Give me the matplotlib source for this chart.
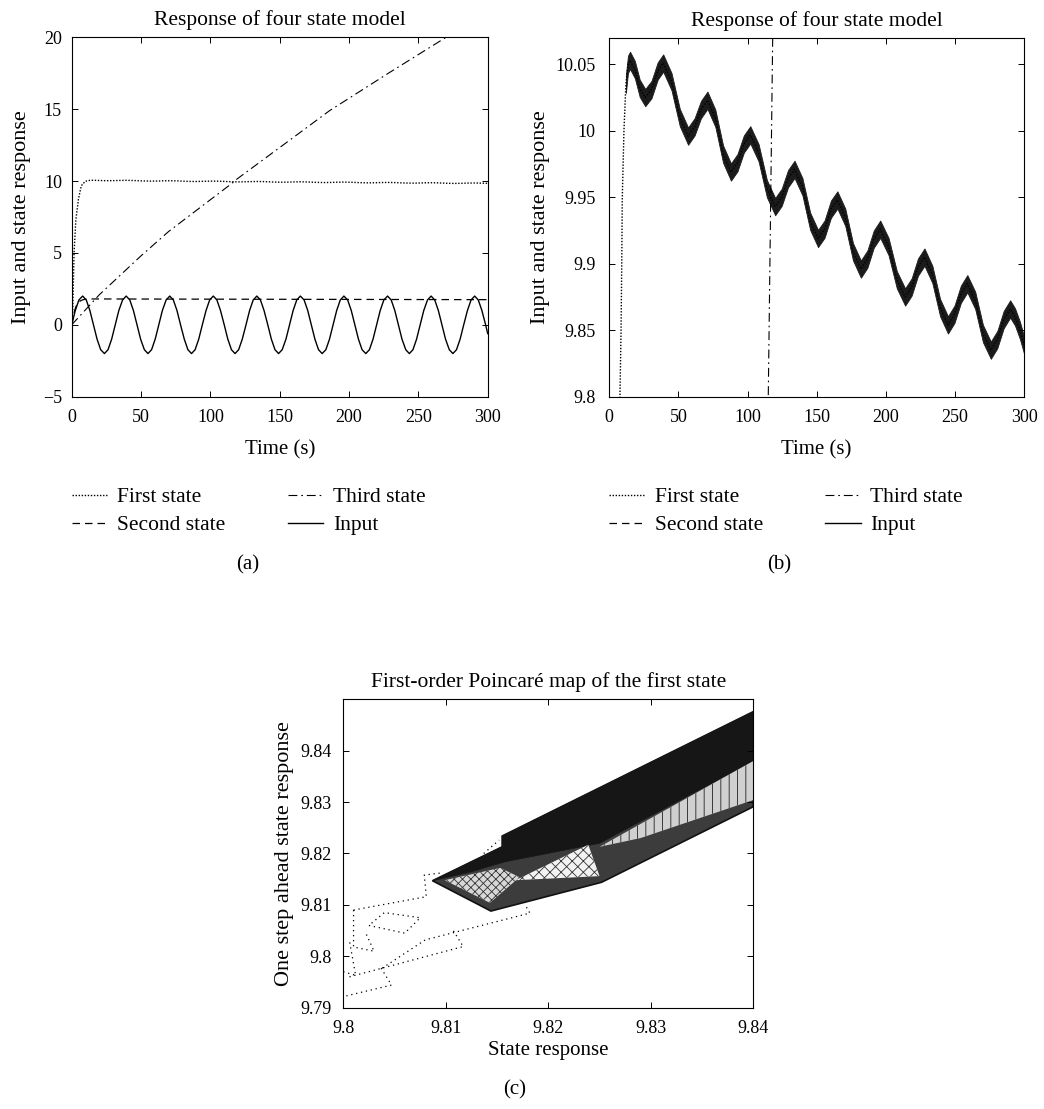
import numpy as np
import matplotlib
matplotlib.use("Agg")
import matplotlib.pyplot as plt

# ---------------------------------------
# Data
# ---------------------------------------

time_ticks = [0, 50, 100, 150, 200, 250, 300]

# Input signal (solid line)
input_t = [
    0.0, 2.6, 5.2, 7.9, 10.5, 13.1, 15.7, 18.3, 20.9, 23.6, 26.2, 28.8,
    31.4, 34.0, 36.7, 39.3, 41.9, 44.5, 47.1, 49.7, 52.4, 55.0, 57.6, 60.2,
    62.8, 65.4, 68.1, 70.7, 73.3, 75.9, 78.5, 81.2, 83.8, 86.4, 89.0, 91.6,
    94.2, 96.9, 99.5, 102.1, 104.7, 107.3, 110.0, 112.6, 115.2, 117.8, 120.4, 123.0,
    125.7, 128.3, 130.9, 133.5, 136.1, 138.7, 141.4, 144.0, 146.6, 149.2, 151.8, 154.5,
    157.1, 159.7, 162.3, 164.9, 167.6, 170.2, 172.8, 175.4, 178.0, 180.6, 183.3, 185.9,
    188.5, 191.1, 193.7, 196.3, 199.0, 201.6, 204.2, 206.8, 209.4, 212.1, 214.7, 217.3,
    219.9, 222.5, 225.1, 227.8, 230.4, 233.0, 235.6, 238.2, 240.9, 243.5, 246.1, 248.7,
    251.3, 253.9, 256.6, 259.2, 261.8, 264.4, 267.0, 269.6, 272.3, 274.9, 277.5, 280.1,
    282.7, 285.4, 288.0, 290.6, 293.2, 295.8, 298.5, 300.0,
]
input_v = [
    0, 1.0, 1.73, 2.0, 1.73, 1.0, 0, -1.0, -1.73, -2.0, -1.73, -1.0,
    0, 1.0, 1.73, 2.0, 1.73, 1.0, 0, -1.0, -1.73, -2.0, -1.73, -1.0,
    0, 1.0, 1.73, 2.0, 1.73, 1.0, 0, -1.0, -1.73, -2.0, -1.73, -1.0,
    0, 1.0, 1.73, 2.0, 1.73, 1.0, 0, -1.0, -1.73, -2.0, -1.73, -1.0,
    0, 1.0, 1.73, 2.0, 1.73, 1.0, 0, -1.0, -1.73, -2.0, -1.73, -1.0,
    0, 1.0, 1.73, 2.0, 1.73, 1.0, 0, -1.0, -1.73, -2.0, -1.73, -1.0,
    0, 1.0, 1.73, 2.0, 1.73, 1.0, 0, -1.0, -1.73, -2.0, -1.73, -1.0,
    0, 1.0, 1.73, 2.0, 1.73, 1.0, 0, -1.0, -1.73, -2.0, -1.73, -1.0,
    0, 1.0, 1.73, 2.0, 1.73, 1.0, 0, -1.0, -1.73, -2.0, -1.73, -1.0,
    0, 1.0, 1.73, 2.0, 1.73, 1.0, 0, -0.61,
]

# Second state (dashed)
second_t = [0, 1, 2, 3, 4, 6, 8, 10, 14, 300]
second_v = [0, 0.55, 0.95, 1.25, 1.45, 1.65, 1.74, 1.78, 1.80, 1.75]

# Third state (dash-dot)
third_t = [0, 20, 50, 70, 115, 118.2, 165, 186, 230, 270, 300]
third_v = [0, 2.1, 4.8, 6.5, 9.8, 10.07, 13.4, 14.9, 17.6, 20.0, 21.8]

# First state (dotted), centre of the oscillating band
first_t = [
    0, 0.5, 1.7, 3.0, 4.8, 6.5, 7.7, 8.5, 9.0, 9.4, 10.6, 12, 13.5, 15,
    18.5, 22, 26, 30.5, 35, 39, 45, 51, 57, 61.7, 66.3, 71, 76.7, 82.3, 88,
    92.7, 97.3, 102, 108, 114, 120, 124.7, 129.3, 134, 139.7, 145.3, 151,
    155.7, 160.3, 165, 170.7, 176.3, 182, 186.7, 191.3, 196, 202, 208, 214,
    218.7, 223.3, 228, 233.7, 239.3, 245, 249.7, 254.3, 259, 264.7, 270.3,
    276, 280.7, 285.3, 290, 293.5, 297, 300,
]
first_v = [
    -6, 0, 5, 7.3, 8.7, 9.5, 9.8, 9.85, 9.9, 9.95, 10.0, 10.035, 10.05, 10.053,
    10.046, 10.032, 10.025, 10.031, 10.045, 10.051, 10.037, 10.010, 9.996, 10.003,
    10.016, 10.023, 10.0095, 9.9825, 9.969, 9.976, 9.990, 9.997, 9.9835, 9.9565,
    9.943, 9.950, 9.964, 9.971, 9.958, 9.932, 9.919, 9.926, 9.941, 9.948, 9.935,
    9.909, 9.896, 9.9035, 9.9185, 9.926, 9.913, 9.888, 9.875, 9.8825, 9.8975,
    9.905, 9.892, 9.867, 9.854, 9.862, 9.877, 9.885, 9.8725, 9.8475, 9.835,
    9.843, 9.858, 9.866, 9.860, 9.850, 9.839,
]
band_start = 11        # index in first_t where the fast oscillation band starts
band_half = 0.0065     # half thickness of that band

# Poincare map regions (state response, one step ahead response)
map_outline_x = [9.8087, 9.8155, 9.8155, 9.8400, 9.8400, 9.8252, 9.8144]
map_outline_y = [9.8147, 9.8213, 9.8234, 9.8476, 9.8291, 9.8144, 9.8088]
map_dark_x = [9.8087, 9.8155, 9.8155, 9.8400, 9.8400, 9.8250, 9.8158, 9.8124]
map_dark_y = [9.8147, 9.8213, 9.8234, 9.8476, 9.8380, 9.8220, 9.8184, 9.8164]
map_check_x = [9.8099, 9.8153, 9.8172, 9.8143]
map_check_y = [9.8148, 9.8172, 9.8154, 9.8104]
map_bright_x = [9.8168, 9.8239, 9.8250]
map_bright_y = [9.8148, 9.8217, 9.8156]
map_stripe_x = [9.8250, 9.8400, 9.8400, 9.8290]
map_stripe_y = [9.8213, 9.8380, 9.8304, 9.8230]

nan = np.nan
map_loop_x = [9.8003, 9.8047, 9.8036, nan, 9.8006, 9.8117, 9.8107, nan,
              9.8010, 9.8010, 9.8030, 9.8022, nan, 9.8010, 9.8081, 9.8079, 9.8095, nan,
              9.8038, 9.8080, 9.8182, 9.8178, nan, 9.8025, 9.8060, 9.8075, 9.8040, 9.8025, nan,
              9.8000, 9.8012, 9.8006, nan, 9.8137, 9.8152]
map_loop_y = [9.7923, 9.7944, 9.7980, nan, 9.7960, 9.8019, 9.8051, nan,
              9.8090, 9.8018, 9.8010, 9.8045, nan, 9.8090, 9.8116, 9.8158, 9.8162, nan,
              9.7977, 9.8032, 9.8084, 9.8098, nan, 9.8060, 9.8045, 9.8075, 9.8085, 9.8060, nan,
              9.7970, 9.7963, 9.8030, nan, 9.8200, 9.8226]

b_ticks = [9.8, 9.85, 9.9, 9.95, 10.0, 10.05]
b_labels = ["9.8", "9.85", "9.9", "9.95", "10", "10.05"]
c_xticks = [9.80, 9.81, 9.82, 9.83, 9.84]
c_xlabels = ["9.8", "9.81", "9.82", "9.83", "9.84"]
c_yticks = [9.79, 9.80, 9.81, 9.82, 9.83, 9.84]
c_ylabels = ["9.79", "9.8", "9.81", "9.82", "9.83", "9.84"]

legend_labels = ["First state", "Second state", "Third state", "Input"]

# ---------------------------------------
# Style
# ---------------------------------------

plt.rcParams["font.family"] = ["Liberation Serif", "DejaVu Serif"]
plt.rcParams["font.size"] = 13
plt.rcParams["hatch.linewidth"] = 0.6
plt.rcParams["axes.linewidth"] = 0.8

TICK_SIZE = 13
TITLE_SIZE = 15.5
XLABEL_SIZE = 15
YLABEL_SIZE = 16
LEGEND_SIZE = 15.5

W, H = 1044, 1109
fig = plt.figure(figsize=(W / 100, H / 100), dpi=100)


def px_axes(left, top, right, bottom):
    return fig.add_axes([left / W, 1 - bottom / H, (right - left) / W, (bottom - top) / H])


def style_axes(ax, ypad):
    ax.tick_params(direction="in", top=True, right=True, length=4, width=0.7,
                   labelsize=TICK_SIZE)
    ax.tick_params(axis="x", pad=9)
    ax.tick_params(axis="y", pad=ypad)


def draw_response(ax, ypad, ylabelpad, band=False):
    l1, = ax.plot(first_t, first_v, color="k", linestyle=(0, (1, 1.2)), lw=1.0)
    if band:
        t = np.array(first_t[band_start:])
        v = np.array(first_v[band_start:])
        ax.fill_between(t, v - band_half, v + band_half, color="#1b1b1b", lw=0.6)
    l2, = ax.plot(second_t, second_v, color="k", linestyle=(0, (6, 4)), lw=0.9)
    l3, = ax.plot(third_t, third_v, color="k", linestyle=(0, (8, 3.5, 1.5, 3.5)), lw=0.8)
    l4, = ax.plot(input_t, input_v, color="k", lw=1.0)
    ax.set_xlim(0, 300)
    ax.set_xticks(time_ticks)
    ax.set_title("Response of four state model", pad=9, fontsize=TITLE_SIZE)
    ax.set_xlabel("Time (s)", labelpad=10, fontsize=XLABEL_SIZE)
    ax.set_ylabel("Input and state response", labelpad=ylabelpad, fontsize=YLABEL_SIZE)
    style_axes(ax, ypad)
    return [l1, l2, l3, l4]


# ---------------------------------------
# Panel (a)
# ---------------------------------------

ax_a = px_axes(71.7, 37.3, 487.7, 396.7)
handles = draw_response(ax_a, ypad=7, ylabelpad=8.5)
ax_a.set_ylim(-5, 20)
ax_a.set_yticks([-5, 0, 5, 10, 15, 20])

# ---------------------------------------
# Panel (b)
# ---------------------------------------

ax_b = px_axes(609.3, 38.3, 1024, 396.7)
draw_response(ax_b, ypad=10, ylabelpad=4, band=True)
ax_b.set_ylim(9.8, 10.0696)
ax_b.set_yticks(b_ticks)
ax_b.set_yticklabels(b_labels)

for x0, lab, xc in [(71.7, "(a)", 248), (609.3, "(b)", 779)]:
    fig.legend(handles, legend_labels, ncol=2, loc="upper left",
               bbox_to_anchor=(x0 / W, 1 - 487 / H), frameon=False,
               borderpad=0, borderaxespad=0, handlelength=1.65,
               handletextpad=0.45, columnspacing=2.9, labelspacing=0.38,
               fontsize=LEGEND_SIZE)
    fig.text(xc / W, 1 - 565 / H, lab, ha="center", va="center", fontsize=XLABEL_SIZE)

# ---------------------------------------
# Panel (c)
# ---------------------------------------

ax_c = px_axes(343.3, 699.3, 753.3, 1007.7)
ax_c.fill(map_outline_x, map_outline_y, facecolor="#3c3c3c", edgecolor="#111111", lw=1.2)
ax_c.fill(map_dark_x, map_dark_y, facecolor="#161616", edgecolor="#161616", lw=0.5)
ax_c.fill(map_check_x, map_check_y, facecolor="#d8d8d8", edgecolor="#333333", hatch="xxxx", lw=0)
ax_c.fill(map_bright_x, map_bright_y, facecolor="#f2f2f2", edgecolor="#333333", hatch="xxx", lw=0)
ax_c.fill(map_stripe_x, map_stripe_y, facecolor="#d0d0d0", edgecolor="#222222", hatch="||", lw=0)
ax_c.plot(map_loop_x, map_loop_y, color="k", linestyle=(0, (1, 3)), lw=0.9)
ax_c.set_xlim(9.80, 9.84)
ax_c.set_ylim(9.79, 9.85)
ax_c.set_xticks(c_xticks)
ax_c.set_xticklabels(c_xlabels)
ax_c.set_yticks(c_yticks)
ax_c.set_yticklabels(c_ylabels)
ax_c.set_title("First-order Poincaré map of the first state", pad=9, fontsize=TITLE_SIZE)
ax_c.set_xlabel("State response", labelpad=3, fontsize=XLABEL_SIZE)
ax_c.set_ylabel("One step ahead state response", labelpad=4, fontsize=YLABEL_SIZE)
style_axes(ax_c, ypad=8.6)
fig.text(515 / W, 1 - 1090 / H, "(c)", ha="center", va="center", fontsize=XLABEL_SIZE)

fig.savefig("out.png", dpi=100)
